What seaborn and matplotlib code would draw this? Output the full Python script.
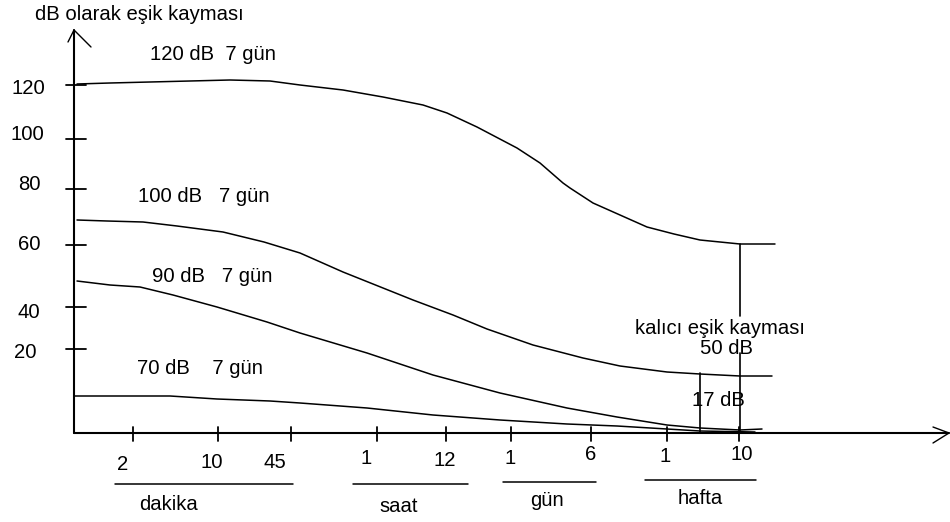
import matplotlib
matplotlib.use("Agg")
import matplotlib.pyplot as plt
import seaborn as sns
import pandas as pd

# ---------------- data (diagram units: origin at the axes corner) ----------------
y_axis_title = "dB olarak eşik kayması"

y_tick_labels = ["120", "100", "80", "60", "40", "20"]
y_tick_values = [348, 294, 244, 188, 126, 84]
y_label_x = [-46, -47, -45, -45, -45, -49]
y_label_y = [344, 298, 248, 189, 120, 81]

x_tick_labels = ["2", "10", "45", "1", "12", "1", "6", "1", "10"]
x_tick_values = [59, 144, 217, 303, 372, 437, 517, 593, 665]
x_label_x = [49, 138, 201, 292, 371, 436, 517, 591, 668]
x_label_y = [-32, -29, -29, -25, -27, -25, -22, -24, -22]

unit_names = ["dakika", "saat", "gün", "hafta"]
unit_start = [41, 279, 429, 571]
unit_end = [219, 394, 522, 682]
unit_line_y = [-51, -51, -49, -47]
unit_text_x = [94, 325, 473, 626]
unit_text_y = [-72, -74, -68, -65]

curve_names = ["120 dB  7 gün", "100 dB   7 gün", "90 dB   7 gün", "70 dB    7 gün"]
curve_label_x = [76, 64, 78, 63]
curve_label_y = [378, 236, 156, 65]

c120_x = [3, 36, 76, 116, 156, 196, 226, 269, 309, 349, 373, 403, 443, 466, 489, 496, 519, 546, 573, 600, 626, 666, 701]
c120_y = [349, 350, 351, 352, 353, 352, 348, 343, 336, 328, 320, 306, 285, 270, 250, 245, 230, 218, 206, 199, 193, 189, 189]

c100_x = [3, 33, 69, 103, 149, 190, 226, 269, 339, 379, 413, 459, 509, 546, 593, 626, 666, 698]
c100_y = [213, 212, 211, 207, 201, 191, 180, 161, 133, 118, 104, 88, 75, 67, 61, 59, 57, 57]

c90_x = [3, 36, 66, 99, 143, 193, 226, 293, 359, 426, 493, 543, 593, 626, 666, 688]
c90_y = [152, 148, 146, 138, 126, 111, 100, 80, 58, 40, 25, 16, 8, 5, 3, 4]

c70_x = [0, 96, 143, 196, 226, 293, 359, 426, 493, 543, 593, 626, 681]
c70_y = [37, 37, 34, 32, 30, 25, 18, 13, 9, 7, 4, 2, 1]

shift_notes = ["kalıcı eşik kayması", "50 dB", "17 dB"]

# ---------------- drawing ----------------
sns.set_theme(style="white")
plt.rcParams["font.family"] = ["Liberation Sans", "DejaVu Sans"]

fig = plt.figure(figsize=(9.5, 5.22), dpi=100)
ax = fig.add_axes([0, 0, 1, 1])
ax.set_xlim(-74, 876)
ax.set_ylim(-89, 433)
ax.axis("off")

K = "black"
FS = 14.6
LW = 1.1

curves = [(c120_x, c120_y), (c100_x, c100_y), (c90_x, c90_y), (c70_x, c70_y)]
frames = []
for name, (xs, ys) in zip(curve_names, curves):
    frames.append(pd.DataFrame({"x": xs, "y": ys, "curve": name}))
df = pd.concat(frames, ignore_index=True)
sns.lineplot(data=df, x="x", y="y", units="curve", estimator=None, sort=False,
             color=K, linewidth=LW, ax=ax, legend=False)

for name, lx, ly in zip(curve_names, curve_label_x, curve_label_y):
    ax.text(lx, ly, name, fontsize=FS, ha="left", va="center", color=K)

# axes lines with arrows
ax.plot([0, 0], [0, 403], color=K, lw=1.5)
ax.plot([-6, 0, 17], [391, 403, 386], color=K, lw=1.0)
ax.plot([0, 875], [0, 0], color=K, lw=1.5)
ax.plot([859, 875, 859], [6, 0, -10], color=K, lw=1.0)
ax.text(-39, 418, y_axis_title, fontsize=FS, ha="left", va="center", color=K)

# y ticks
for v, t, lx, ly in zip(y_tick_values, y_tick_labels, y_label_x, y_label_y):
    ax.plot([-8, 12], [v, v], color=K, lw=1.3)
    ax.text(lx, ly, t, fontsize=FS, ha="center", va="center", color=K)

# x ticks
for v, t, lx, ly in zip(x_tick_values, x_tick_labels, x_label_x, x_label_y):
    ax.plot([v, v], [6, -8], color=K, lw=1.3)
    ax.text(lx, ly, t, fontsize=FS, ha="center", va="center", color=K)

# unit groups
for n, s, e, ly, tx, ty in zip(unit_names, unit_start, unit_end, unit_line_y, unit_text_x, unit_text_y):
    ax.plot([s, e], [ly, ly], color=K, lw=1.1)
    ax.text(tx, ty, n, fontsize=FS, ha="center", va="center", color=K)

# permanent shift markers
perm_x = c120_x[-2]
ax.plot([perm_x, perm_x], [c120_y[-1], 117], color=K, lw=1.2)
ax.plot([perm_x, perm_x], [80, 0], color=K, lw=1.2)
ax.plot([626, 626], [60, 0], color=K, lw=1.2)
ax.text(561, 105, shift_notes[0], fontsize=FS, ha="left", va="center", color=K)
ax.text(653, 84, shift_notes[1], fontsize=FS, ha="center", va="center", color=K)
ax.text(644, 33, shift_notes[2], fontsize=FS, ha="center", va="center", color=K)

fig.savefig("out.png", dpi=100, facecolor="white")
